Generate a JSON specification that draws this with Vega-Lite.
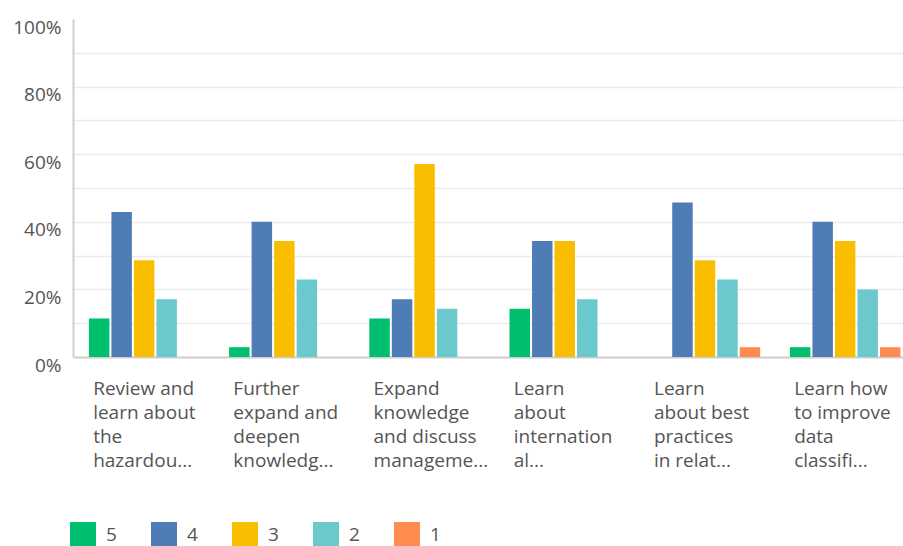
{
  "$schema": "https://vega.github.io/schema/vega-lite/v6.json",
  "autosize": "none",
  "width": 830,
  "height": 338,
  "padding": {"left": 73, "top": 19, "right": 0, "bottom": 189},
  "background": "white",
  "config": {"view": {"stroke": null}, "font": "Open Sans"},
  "data": {
    "values": [
      {"question": "Review and|learn about|the|hazardou...", "rating": "5", "pct": 11.4},
      {"question": "Review and|learn about|the|hazardou...", "rating": "4", "pct": 42.9},
      {"question": "Review and|learn about|the|hazardou...", "rating": "3", "pct": 28.6},
      {"question": "Review and|learn about|the|hazardou...", "rating": "2", "pct": 17.1},
      {"question": "Review and|learn about|the|hazardou...", "rating": "1", "pct": 0},
      {"question": "Further|expand and|deepen|knowledg...", "rating": "5", "pct": 2.9},
      {"question": "Further|expand and|deepen|knowledg...", "rating": "4", "pct": 40.0},
      {"question": "Further|expand and|deepen|knowledg...", "rating": "3", "pct": 34.3},
      {"question": "Further|expand and|deepen|knowledg...", "rating": "2", "pct": 22.9},
      {"question": "Further|expand and|deepen|knowledg...", "rating": "1", "pct": 0},
      {"question": "Expand|knowledge|and discuss|manageme...", "rating": "5", "pct": 11.4},
      {"question": "Expand|knowledge|and discuss|manageme...", "rating": "4", "pct": 17.1},
      {"question": "Expand|knowledge|and discuss|manageme...", "rating": "3", "pct": 57.1},
      {"question": "Expand|knowledge|and discuss|manageme...", "rating": "2", "pct": 14.3},
      {"question": "Expand|knowledge|and discuss|manageme...", "rating": "1", "pct": 0},
      {"question": "Learn|about|internation|al...", "rating": "5", "pct": 14.3},
      {"question": "Learn|about|internation|al...", "rating": "4", "pct": 34.3},
      {"question": "Learn|about|internation|al...", "rating": "3", "pct": 34.3},
      {"question": "Learn|about|internation|al...", "rating": "2", "pct": 17.1},
      {"question": "Learn|about|internation|al...", "rating": "1", "pct": 0},
      {"question": "Learn|about best|practices|in relat...", "rating": "5", "pct": 0},
      {"question": "Learn|about best|practices|in relat...", "rating": "4", "pct": 45.7},
      {"question": "Learn|about best|practices|in relat...", "rating": "3", "pct": 28.6},
      {"question": "Learn|about best|practices|in relat...", "rating": "2", "pct": 22.9},
      {"question": "Learn|about best|practices|in relat...", "rating": "1", "pct": 2.9},
      {"question": "Learn how|to improve|data|classifi...", "rating": "5", "pct": 2.9},
      {"question": "Learn how|to improve|data|classifi...", "rating": "4", "pct": 40.0},
      {"question": "Learn how|to improve|data|classifi...", "rating": "3", "pct": 34.3},
      {"question": "Learn how|to improve|data|classifi...", "rating": "2", "pct": 20.0},
      {"question": "Learn how|to improve|data|classifi...", "rating": "1", "pct": 2.9}
    ]
  },
  "mark": {"type": "bar"},
  "encoding": {
    "x": {
      "field": "question",
      "type": "nominal",
      "sort": null,
      "scale": {"paddingInner": 0.212, "paddingOuter": 0.066, "align": 0.86},
      "axis": {
        "title": null,
        "labelAngle": 0,
        "labelExpr": "split(datum.label, '|')",
        "labelAlign": "left",
        "labelBaseline": "top",
        "labelOffset": -51,
        "labelPadding": 22,
        "labelLineHeight": 24,
        "labelFontSize": 19,
        "labelColor": "#555555",
        "labelLimit": 300,
        "labelOverlap": false,
        "ticks": false,
        "grid": false,
        "domainColor": "#cfcfcf",
        "domainWidth": 2
      }
    },
    "xOffset": {
      "field": "rating",
      "type": "nominal",
      "sort": ["5", "4", "3", "2", "1"],
      "scale": {"paddingInner": 0.09}
    },
    "y": {
      "field": "pct",
      "type": "quantitative",
      "scale": {"domain": [0, 100], "nice": false},
      "axis": {
        "title": null,
        "values": [0, 10, 20, 30, 40, 50, 60, 70, 80, 90, 100],
        "labelExpr": "datum.value % 20 == 0 ? datum.value + '%' : ''",
        "labelFontSize": 19,
        "labelColor": "#555555",
        "labelPadding": 12,
        "labelOffset": 8,
        "ticks": false,
        "domainColor": "#cfcfcf",
        "domainWidth": 2,
        "gridColor": "#ececec",
        "gridWidth": 1.5,
        "gridOpacity": {"condition": {"test": "datum.value == 100", "value": 0}, "value": 1}
      }
    },
    "color": {
      "field": "rating",
      "type": "nominal",
      "sort": ["5", "4", "3", "2", "1"],
      "scale": {
        "domain": ["5", "4", "3", "2", "1"],
        "range": ["#00BF6F", "#507CB6", "#F9BE00", "#6BC8CD", "#FF8B4F"]
      },
      "legend": {
        "orient": "none",
        "legendX": -3,
        "legendY": 503,
        "direction": "horizontal",
        "title": null,
        "symbolType": "square",
        "symbolSize": 676,
        "symbolStrokeWidth": 0,
        "symbolOpacity": 1,
        "labelFontSize": 19,
        "labelColor": "#555555",
        "labelOffset": 10,
        "columnPadding": 34
      }
    }
  }
}
